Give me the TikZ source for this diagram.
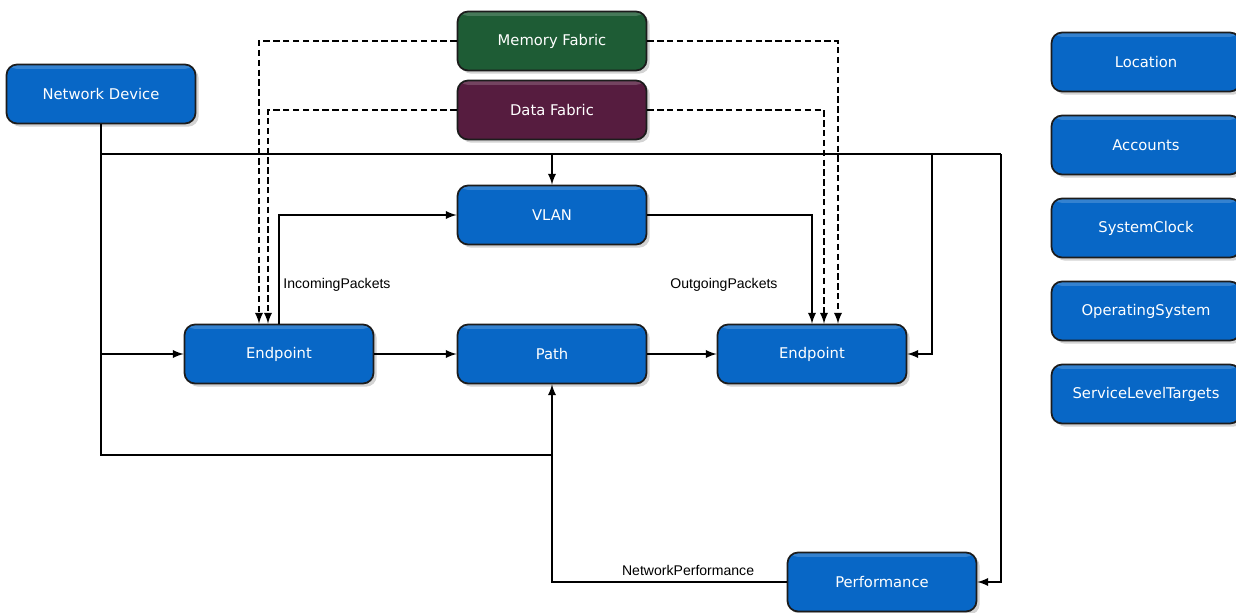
\documentclass[tikz,border=0pt]{standalone}
\usepackage{fontspec}
\setmainfont{DejaVu Sans}
\newfontfamily\tagfont{Liberation Sans}
\usetikzlibrary{arrows,shadows}
\definecolor{boxblue}{HTML}{0867C6}
\definecolor{boxgreen}{HTML}{1E5C35}
\definecolor{boxplum}{HTML}{561C3F}
\definecolor{boxedge}{HTML}{1C1C1C}
\tikzstyle{module}=[draw=boxedge, line width=1pt, rounded corners=6pt, fill=boxblue,
  minimum width=3.78cm, minimum height=1.18cm, text=white, font=\fontsize{8.4}{10}\selectfont,
  drop shadow={shadow xshift=1.8pt, shadow yshift=-1.8pt, opacity=0.35},
  path picture={\fill[white, opacity=0.18] (path picture bounding box.north west) rectangle ([yshift=-2.5pt]path picture bounding box.north east);}]
\tikzstyle{tag}=[font=\tagfont\fontsize{8}{10}\selectfont, text=black, inner sep=2pt]
\tikzstyle{flow}=[line width=1.1pt]
\tikzstyle{share}=[line width=1.1pt, dash pattern=on 3.6pt off 2pt]
\tikzset{>=latex}

\begin{document}
\begin{tikzpicture}[x=0.02cm, y=-0.02cm]
\useasboundingbox (0,0) rectangle (1236,612);

\node (netdev)   [module] at (101,94)  {Network Device};
\node (memory)   [module, fill=boxgreen] at (552,41)  {Memory Fabric};
\node (data)     [module, fill=boxplum]  at (552,110) {Data Fabric};
\node (vlan)     [module] at (552,215) {VLAN};
\node (endL)     [module] at (279,354) {Endpoint};
\node (path)     [module] at (552,354) {Path};
\node (endR)     [module] at (812,354) {Endpoint};
\node (perf)     [module] at (882,582) {Performance};

\node (location) [module] at (1146,62)  {Location};
\node (accounts) [module] at (1146,145) {Accounts};
\node (clock)    [module] at (1146,228) {SystemClock};
\node (opsys)    [module] at (1146,311) {OperatingSystem};
\node (slt)      [module] at (1146,394) {ServiceLevelTargets};

\coordinate (busM) at (932,154);
\coordinate (busR) at (1001,154);
\coordinate (loop) at (552,455);

% fabrics
\draw [share,->] (memory.west) -| ([xshift=-0.4cm]endL.north);
\draw [share,->] (data.west)   -| ([xshift=-0.22cm]endL.north);
\draw [share,->] (memory.east) -| ([xshift=0.52cm]endR.north);
\draw [share,->] (data.east)   -| ([xshift=0.24cm]endR.north);

% network device bus
\draw [flow] (netdev.south) |- (loop);
\draw [flow] (netdev.south |- busR) -- (busR);
\draw [flow,->] (vlan.north |- busR) -- (vlan.north);
\draw [flow,->] (busM) |- (endR.east);
\draw [flow,->] (busR) |- (perf.east);
\draw [flow,->] (netdev.south |- endL) -- (endL.west);

\draw [flow,->] (endL.north) |- (vlan.west)
  node (inpk) [tag, pos=0.18, anchor=west] {IncomingPackets};
\draw [flow,->] (vlan.east) -| (endR.north)
  node (outpk) [tag, pos=0.82, anchor=east, xshift=-0.6cm] {OutgoingPackets};
\draw [flow,->] (endL) -- (path);
\draw [flow,->] (path) -- (endR);
\draw [flow,->] (perf.west) -| (path.south)
  node (netpf) [tag, pos=0.21, above, yshift=1pt] {NetworkPerformance};

\end{tikzpicture}
\end{document}
